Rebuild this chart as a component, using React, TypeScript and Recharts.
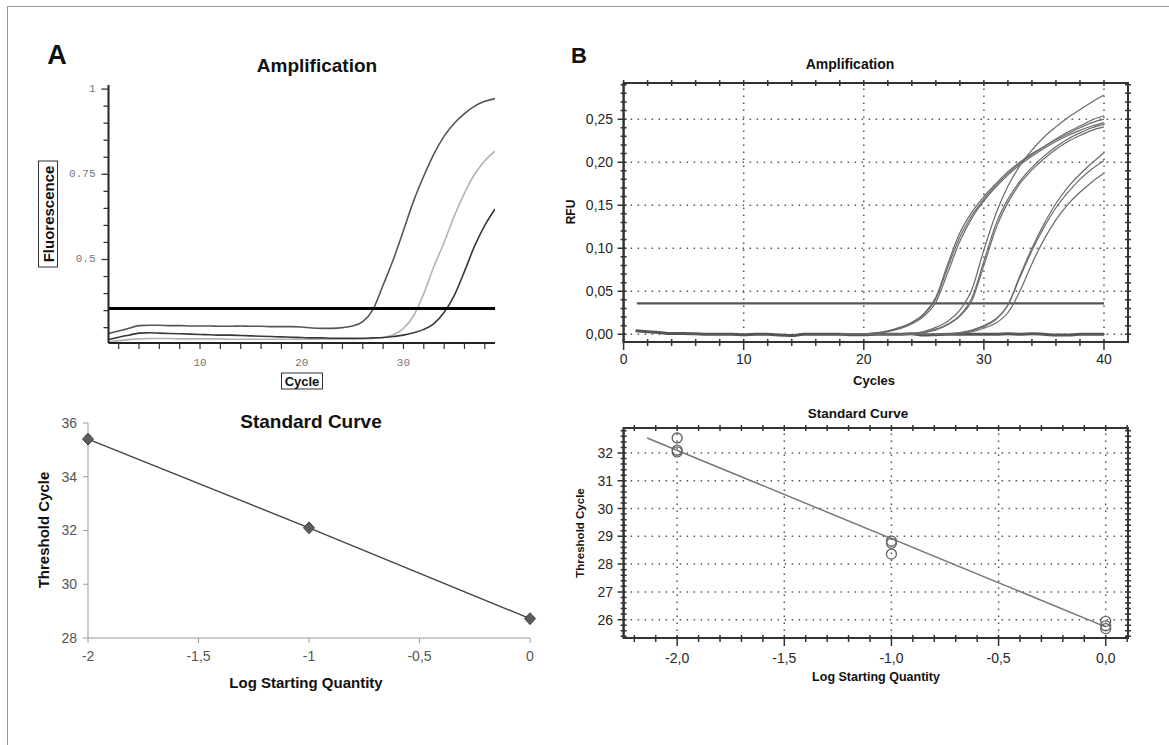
import { LineChart, Line, XAxis, YAxis, ReferenceLine, ReferenceArea, ComposedChart, Scatter } from "recharts";

const SANS = "'Liberation Sans', Arial, Helvetica, sans-serif";
const MONO = "'Liberation Mono', 'Courier New', monospace";

// ---------- A: amplification (fluorescence per cycle)
const cyclesA = [1, 2, 3, 4, 5, 6, 7, 8, 9, 10, 11, 12, 13, 14, 15, 16, 17, 18, 19, 20, 21, 22, 23, 24, 25, 26, 27, 28, 29, 30, 31, 32, 33, 34, 35, 36, 37, 38, 39];
const fluorA1 = [0.283, 0.29, 0.298, 0.306, 0.307, 0.307, 0.306, 0.306, 0.305, 0.305, 0.305, 0.304, 0.304, 0.305, 0.304, 0.304, 0.303, 0.303, 0.303, 0.302, 0.299, 0.298, 0.298, 0.3, 0.305, 0.318, 0.353, 0.425, 0.5, 0.585, 0.672, 0.745, 0.81, 0.862, 0.9, 0.928, 0.95, 0.964, 0.972];
const fluorA2 = [0.258, 0.262, 0.265, 0.267, 0.268, 0.268, 0.268, 0.267, 0.267, 0.267, 0.267, 0.267, 0.266, 0.266, 0.266, 0.266, 0.266, 0.266, 0.266, 0.266, 0.266, 0.266, 0.266, 0.266, 0.266, 0.267, 0.268, 0.271, 0.279, 0.298, 0.335, 0.4, 0.48, 0.55, 0.628, 0.695, 0.75, 0.79, 0.818];
const fluorA3 = [0.265, 0.272, 0.278, 0.284, 0.285, 0.284, 0.283, 0.282, 0.281, 0.28, 0.279, 0.278, 0.278, 0.277, 0.276, 0.275, 0.274, 0.273, 0.272, 0.271, 0.27, 0.27, 0.269, 0.269, 0.269, 0.269, 0.27, 0.271, 0.274, 0.278, 0.285, 0.295, 0.312, 0.345, 0.395, 0.465, 0.54, 0.6, 0.648];
const thresholdA = 0.356;
const fluorTicksA = [0.5, 0.75, 1];
const cycleTicksA = [10, 20, 30];

// ---------- A: standard curve
const logQtyA = [-2, -1, 0];
const ctA = [35.4, 32.1, 28.72];
const logTicksA = [-2, -1.5, -1, -0.5, 0];
const ctTicksA = [28, 30, 32, 34, 36];

// ---------- B: amplification (RFU per cycle)
const cyclesB = [18, 19, 20, 21, 22, 23, 24, 25, 26, 27, 28, 29, 30, 31, 32, 33, 34, 35, 36, 37, 38, 39, 40];
const rfuHigh1 = [0, 0, 0.0005, 0.0015, 0.004, 0.008, 0.014, 0.024, 0.043, 0.082, 0.118, 0.142, 0.16, 0.175, 0.189, 0.2, 0.21, 0.218, 0.226, 0.233, 0.24, 0.246, 0.25];
const rfuHigh2 = [0, 0, 0.0005, 0.0015, 0.0035, 0.0075, 0.013, 0.023, 0.041, 0.078, 0.113, 0.138, 0.157, 0.173, 0.187, 0.199, 0.209, 0.218, 0.227, 0.235, 0.242, 0.249, 0.254];
const rfuHigh3 = [0, 0, 0, 0.001, 0.003, 0.0065, 0.012, 0.021, 0.037, 0.072, 0.108, 0.135, 0.155, 0.171, 0.185, 0.197, 0.207, 0.216, 0.224, 0.231, 0.237, 0.242, 0.246];
const rfuMid1 = [0, 0, 0, 0, 0, 0.0005, 0.001, 0.003, 0.008, 0.015, 0.028, 0.052, 0.098, 0.14, 0.172, 0.196, 0.214, 0.229, 0.241, 0.252, 0.261, 0.27, 0.278];
const rfuMid2 = [0, 0, 0, 0, 0, 0, 0.0005, 0.002, 0.006, 0.012, 0.022, 0.042, 0.085, 0.128, 0.157, 0.178, 0.194, 0.207, 0.218, 0.227, 0.234, 0.24, 0.244];
const rfuMid3 = [0, 0, 0, 0, 0, 0, 0.0005, 0.002, 0.005, 0.011, 0.021, 0.039, 0.08, 0.123, 0.153, 0.175, 0.191, 0.204, 0.215, 0.224, 0.231, 0.237, 0.241];
const rfuLow1 = [0, 0, 0, 0, 0, 0, 0, 0, 0, 0.0005, 0.002, 0.005, 0.01, 0.018, 0.034, 0.068, 0.1, 0.128, 0.152, 0.171, 0.186, 0.199, 0.211];
const rfuLow2 = [0, 0, 0, 0, 0, 0, 0, 0, 0, 0.0005, 0.0015, 0.004, 0.009, 0.017, 0.034, 0.066, 0.097, 0.124, 0.147, 0.165, 0.18, 0.192, 0.202];
const rfuLow3 = [0, 0, 0, 0, 0, 0, 0, 0, 0, 0, 0.001, 0.003, 0.007, 0.013, 0.025, 0.05, 0.082, 0.11, 0.133, 0.151, 0.165, 0.177, 0.187];
const baseCycles = [1, 2, 3, 4, 5, 6, 7, 8, 9, 10, 11, 12, 13, 14, 15, 16, 17, 18, 19, 20, 21, 22, 23, 24, 25, 26, 27, 28, 29, 30, 31, 32, 33, 34, 35, 36, 37, 38, 39, 40];
const baseRfu = [0.004, 0.003, 0.002, 0.001, 0.001, 0.0005, 0, 0, 0, -0.0005, 0, 0, -0.001, -0.0015, 0, 0, 0, 0, -0.0005, -0.0005, 0, 0, 0, 0.0005, -0.001, -0.0005, 0, 0, 0, 0, 0, 0.0005, 0, 0.0005, 0, -0.001, -0.001, 0, 0, 0];
const thresholdCyclesB = [1.1, 40];
const thresholdB = 0.036;
const rfuTicksB = [0, 0.05, 0.1, 0.15, 0.2, 0.25];
const cycleTicksB = [0, 10, 20, 30, 40];

// ---------- B: standard curve
const logQtyB = [-2, -2, -2, -1, -1, -1, 0, 0, 0];
const ctB = [32.54, 32.1, 32.04, 28.83, 28.75, 28.36, 25.94, 25.78, 25.68];
const fitLogB = [-2.14, 0];
const fitCtB = [32.54, 25.74];
const logTicksB = [-2, -1.5, -1, -0.5, 0];
const ctTicksB = [26, 27, 28, 29, 30, 31, 32];

// axis ranges (plot box edges)
const cycleDomB: [number, number] = [0, 42];
const rfuDomB: [number, number] = [-0.009, 0.292];
const logDomB: [number, number] = [-2.25, 0.104];
const ctDomB: [number, number] = [25.34, 32.9];

const rows = (xs: number[], ys: number[]) => xs.map((x, i) => ({ x, y: ys[i] }));

const range = (a: number, b: number, step: number) => {
  const out: number[] = [];
  for (let i = 0; a + i * step <= b + 1e-9; i++) out.push(+(a + i * step).toFixed(4));
  return out;
};

const comma = (digits: number) => (v: number) => v.toFixed(digits).replace(".", ",");
const commaShort = (v: number) => String(v).replace(".", ",");

type TickStyle = {
  side: "left" | "bottom";
  majors: number[];
  label?: (v: number) => string;
  major: [number, number]; // outside, inside
  minor: [number, number];
  offset?: number;
  far?: number; // distance to the opposite frame edge, draws the mirrored tick there
  stroke: string;
  sw: number;
  font?: string;
  size?: number;
  fill?: string;
};

const near = (v: number, list: number[]) => list.some((m) => Math.abs(m - v) < 1e-6);

const tickMaker = (s: TickStyle) => (props: any) => {
  const x = Number(props.x);
  const y = Number(props.y);
  const v = Number(props.payload.value);
  const isMajor = near(v, s.majors);
  const [out, inn] = isMajor ? s.major : s.minor;
  const txt = isMajor && s.label ? s.label(v) : null;
  const off = s.offset ?? 0;
  let d = "";
  if (s.side === "left") {
    d = `M${x - out},${y}H${x + inn}`;
    if (s.far) d += `M${x + s.far - inn},${y}H${x + s.far + Math.min(out, 3)}`;
  } else {
    d = `M${x},${y - inn}V${y + out}`;
    if (s.far) d += `M${x},${y - s.far - Math.min(out, 3)}V${y - s.far + inn}`;
  }
  return (
    <g>
      <path d={d} stroke={s.stroke} strokeWidth={s.sw} fill="none" />
      {txt && s.side === "left" && (
        <text x={x - off} y={y} textAnchor="end" dominantBaseline="central" fontFamily={s.font} fontSize={s.size} fill={s.fill}>{txt}</text>
      )}
      {txt && s.side === "bottom" && (
        <text x={x} y={y + off} textAnchor="middle" dominantBaseline="central" fontFamily={s.font} fontSize={s.size} fill={s.fill}>{txt}</text>
      )}
    </g>
  );
};

const Txt = ({ x, y, size, children, rotate = false, weight = 700, color = "#111", family = SANS }: any) => (
  <div
    style={{
      position: "absolute",
      left: x,
      top: y,
      transform: `translate(-50%, -50%)${rotate ? " rotate(-90deg)" : ""}`,
      fontSize: size,
      fontWeight: weight,
      fontFamily: family,
      color,
      whiteSpace: "nowrap",
      lineHeight: 1,
    }}
  >
    {children}
  </div>
);

const Boxed = ({ x, y, w, h, size, children, rotate = false }: any) => (
  <div
    style={{
      position: "absolute",
      left: x,
      top: y,
      width: w,
      height: h,
      transform: `translate(-50%, -50%)${rotate ? " rotate(-90deg)" : ""}`,
      border: "1.5px solid #333",
      boxSizing: "border-box",
      display: "flex",
      alignItems: "center",
      justifyContent: "center",
      fontFamily: SANS,
      fontWeight: 700,
      fontSize: size,
      color: "#111",
      whiteSpace: "nowrap",
    }}
  >
    {children}
  </div>
);

const Diamond = (p: any) => {
  if (p.cx == null || p.cy == null) return <g key={p.index} />;
  const { cx, cy } = p;
  return (
    <polygon
      key={p.index}
      points={`${cx},${cy - 6} ${cx + 5.5},${cy} ${cx},${cy + 6} ${cx - 5.5},${cy}`}
      fill="#5c5c5c"
      stroke="#444"
      strokeWidth={1}
    />
  );
};

const Ring = (p: any) => <circle cx={p.cx} cy={p.cy} r={5} fill="none" stroke="#666" strokeWidth={1.3} />;

const FRAME = "#333";
const B_TICK_FONT = { font: SANS, size: 14, fill: "#262626" };
const GRID = { stroke: "#555", strokeWidth: 1.5, strokeDasharray: "1.5 5.5" };

export default function App() {
  const aLines = [
    { ys: fluorA1, color: "#555" },
    { ys: fluorA2, color: "#b3b3b3" },
    { ys: fluorA3, color: "#383838" },
  ];
  const bCurves = [rfuHigh1, rfuHigh2, rfuHigh3, rfuMid1, rfuMid2, rfuMid3, rfuLow1, rfuLow2, rfuLow3];

  return (
    <div style={{ position: "absolute", left: 0, top: 0, width: 1169, height: 745, background: "#fff", overflow: "hidden" }}>
      <div style={{ position: "absolute", left: 7, top: 6, width: 1170, height: 745, borderLeft: "1px solid #999", borderTop: "1px solid #999" }} />

      <Txt x={57} y={55} size={27}>A</Txt>
      <Txt x={579} y={56} size={22}>B</Txt>

      {/* ---------- A amplification ---------- */}
      <Txt x={317} y={65} size={19}>Amplification</Txt>
      <div style={{ position: "absolute", left: 20, top: 75 }}>
        <LineChart width={485} height={298} margin={{ top: 10, right: 10, bottom: 0, left: 0 }}>
          <XAxis
            type="number"
            dataKey="x"
            domain={[1, 39]}
            allowDataOverflow
            ticks={range(2, 38, 2)}
            interval={0}
            height={30}
            tickSize={0}
            tickMargin={0}
            tickLine={false}
            axisLine={{ stroke: "#222", strokeWidth: 2 }}
            tick={tickMaker({ side: "bottom", majors: cycleTicksA, label: String, major: [6, 0], minor: [6, 0], offset: 20, stroke: "#333", sw: 1.2, font: MONO, size: 11, fill: "#777" })}
          />
          <YAxis
            type="number"
            domain={[0.255, 1.012]}
            allowDataOverflow
            ticks={range(0.3, 1, 0.05)}
            interval={0}
            width={88.5}
            tickSize={0}
            tickMargin={0}
            tickLine={false}
            axisLine={{ stroke: "#222", strokeWidth: 2 }}
            tick={tickMaker({ side: "left", majors: fluorTicksA, label: String, major: [7, 0], minor: [5, 0], offset: 13, stroke: "#333", sw: 1.3, font: MONO, size: 11, fill: "#777" })}
          />
          {aLines.map((l, i) => (
            <Line key={i} data={rows(cyclesA, l.ys)} dataKey="y" type="monotone" stroke={l.color} strokeWidth={1.6} dot={false} isAnimationActive={false} />
          ))}
          <ReferenceLine y={thresholdA} stroke="#000" strokeWidth={3} />
        </LineChart>
      </div>
      <Boxed x={47.5} y={214} w={107} h={20} size={15} rotate>Fluorescence</Boxed>
      <Boxed x={302} y={380.5} w={42} h={17} size={13}>Cycle</Boxed>

      {/* ---------- A standard curve ---------- */}
      <div style={{ position: "absolute", left: 20, top: 413 }}>
        <LineChart width={530} height={255} margin={{ top: 10, right: 20, bottom: 0, left: 0 }} data={rows(logQtyA, ctA)}>
          <XAxis
            type="number"
            dataKey="x"
            domain={[-2, 0]}
            ticks={logTicksA}
            interval={0}
            height={30}
            tickSize={5}
            tickMargin={8}
            tickFormatter={commaShort}
            axisLine={{ stroke: "#9a9a9a" }}
            tickLine={{ stroke: "#9a9a9a" }}
            tick={{ fill: "#555", fontSize: 14, fontFamily: SANS }}
          />
          <YAxis
            type="number"
            domain={[28, 36]}
            ticks={ctTicksA}
            interval={0}
            width={68}
            tickSize={5}
            tickMargin={6}
            axisLine={{ stroke: "#9a9a9a" }}
            tickLine={{ stroke: "#9a9a9a" }}
            tick={{ fill: "#555", fontSize: 14, fontFamily: SANS }}
          />
          <Line dataKey="y" type="linear" stroke="#444" strokeWidth={1.4} dot={Diamond} isAnimationActive={false} />
        </LineChart>
      </div>
      <Txt x={311} y={421} size={19}>Standard Curve</Txt>
      <Txt x={43} y={530} size={15} rotate>Threshold Cycle</Txt>
      <Txt x={306} y={682} size={15}>Log Starting Quantity</Txt>

      {/* ---------- B amplification ---------- */}
      <Txt x={850} y={64} size={14}>Amplification</Txt>
      <div style={{ position: "absolute", left: 560, top: 73 }}>
        <LineChart width={583} height={299} margin={{ top: 10, right: 15, bottom: 0, left: 0 }}>
          <XAxis
            type="number"
            dataKey="x"
            domain={cycleDomB}
            allowDataOverflow
            ticks={range(0, 40, 2)}
            interval={0}
            height={30}
            tickSize={0}
            tickMargin={0}
            tickLine={false}
            axisLine={{ stroke: FRAME, strokeWidth: 2 }}
            tick={tickMaker({ side: "bottom", majors: cycleTicksB, label: String, major: [8, 3], minor: [4, 3], offset: 17, far: 259, stroke: FRAME, sw: 1.5, ...B_TICK_FONT })}
          />
          <YAxis
            type="number"
            dataKey="y"
            domain={rfuDomB}
            allowDataOverflow
            ticks={range(0, 0.29, 0.01)}
            interval={0}
            width={63.6}
            tickSize={0}
            tickMargin={0}
            tickLine={false}
            axisLine={{ stroke: FRAME, strokeWidth: 2 }}
            tick={tickMaker({ side: "left", majors: rfuTicksB, label: comma(2), major: [6, 3], minor: [3, 3], offset: 10.5, far: 504.4, stroke: FRAME, sw: 1.5, ...B_TICK_FONT })}
          />
          <ReferenceArea x1={cycleDomB[0]} x2={cycleDomB[1]} y1={rfuDomB[0]} y2={rfuDomB[1]} fill="none" fillOpacity={0} stroke={FRAME} strokeWidth={2} ifOverflow="visible" />
          {rfuTicksB.map((v) => (
            <ReferenceLine key={"h" + v} y={v} {...GRID} />
          ))}
          {cycleTicksB.filter((v) => v > 0).map((v) => (
            <ReferenceLine key={"v" + v} x={v} {...GRID} />
          ))}
          <Line data={rows(thresholdCyclesB, thresholdCyclesB.map(() => thresholdB))} dataKey="y" type="linear" stroke="#555" strokeWidth={2.2} dot={false} isAnimationActive={false} />
          <Line data={rows(baseCycles, baseRfu)} dataKey="y" type="monotone" stroke="#555" strokeWidth={3} dot={false} isAnimationActive={false} />
          {bCurves.map((ys, i) => (
            <Line key={i} data={rows(cyclesB, ys)} dataKey="y" type="monotone" stroke="#6a6a6a" strokeWidth={1.2} dot={false} isAnimationActive={false} />
          ))}
        </LineChart>
      </div>
      <Txt x={571} y={212} size={12} rotate>RFU</Txt>
      <Txt x={874} y={380} size={13}>Cycles</Txt>

      {/* ---------- B standard curve ---------- */}
      <Txt x={858} y={414} size={13.5}>Standard Curve</Txt>
      <div style={{ position: "absolute", left: 560, top: 418 }}>
        <ComposedChart width={583} height={250} margin={{ top: 10, right: 15, bottom: 0, left: 0 }}>
          <XAxis
            type="number"
            dataKey="x"
            domain={logDomB}
            allowDataOverflow
            ticks={range(-2.2, 0.1, 0.1)}
            interval={0}
            height={30}
            tickSize={0}
            tickMargin={0}
            tickLine={false}
            axisLine={{ stroke: FRAME, strokeWidth: 2 }}
            tick={tickMaker({ side: "bottom", majors: logTicksB, label: comma(1), major: [8, 3], minor: [4, 3], offset: 19.5, far: 210, stroke: FRAME, sw: 1.5, ...B_TICK_FONT })}
          />
          <YAxis
            type="number"
            dataKey="y"
            domain={ctDomB}
            allowDataOverflow
            ticks={range(25.4, 32.8, 0.2)}
            interval={0}
            width={63.6}
            tickSize={0}
            tickMargin={0}
            tickLine={false}
            axisLine={{ stroke: FRAME, strokeWidth: 2 }}
            tick={tickMaker({ side: "left", majors: ctTicksB, label: String, major: [6, 3], minor: [3, 3], offset: 10.5, far: 504.4, stroke: FRAME, sw: 1.5, ...B_TICK_FONT })}
          />
          <ReferenceArea x1={logDomB[0]} x2={logDomB[1]} y1={ctDomB[0]} y2={ctDomB[1]} fill="none" fillOpacity={0} stroke={FRAME} strokeWidth={2} ifOverflow="visible" />
          {ctTicksB.map((v) => (
            <ReferenceLine key={"h" + v} y={v} {...GRID} />
          ))}
          {logTicksB.map((v) => (
            <ReferenceLine key={"v" + v} x={v} {...GRID} />
          ))}
          <Line data={rows(fitLogB, fitCtB)} dataKey="y" type="linear" stroke="#777" strokeWidth={1.5} dot={false} isAnimationActive={false} />
          <Scatter data={rows(logQtyB, ctB)} dataKey="y" shape={Ring} isAnimationActive={false} />
        </ComposedChart>
      </div>
      <Txt x={581} y={533} size={11.5} rotate>Threshold Cycle</Txt>
      <Txt x={876} y={677} size={12.5}>Log Starting Quantity</Txt>
    </div>
  );
}
